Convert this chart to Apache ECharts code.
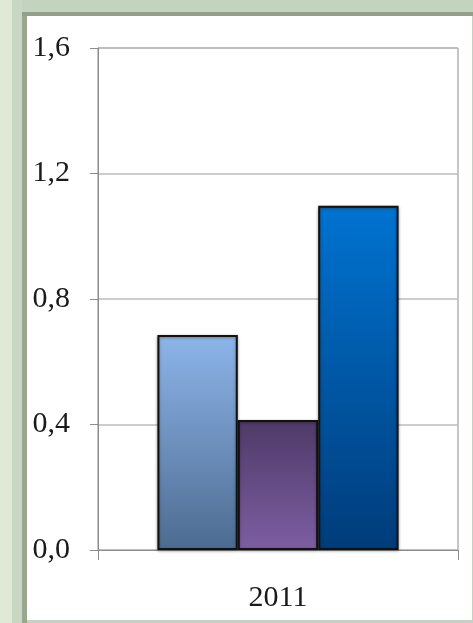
<!DOCTYPE html>
<html><head><meta charset="utf-8">
<script src="https://cdn.jsdelivr.net/npm/echarts@6/dist/echarts.min.js"></script>
<style>html,body{margin:0;padding:0;background:#c4d3c0;}#c{width:473px;height:623px;}</style>
</head><body><div id="c"></div>
<script>
const categories = ['2011'];
const seriesA = [0.685];
const seriesB = [0.414];
const seriesC = [1.097];
const yTicks = [0, 0.4, 0.8, 1.2, 1.6];

function grad(top, bottom){
  return new echarts.graphic.LinearGradient(0,0,0,1,[{offset:0,color:top},{offset:1,color:bottom}]);
}
const chart = echarts.init(document.getElementById('c'), null, {renderer:'canvas'});
const barStyle = (c)=>({color:c, borderColor:'#111', borderWidth:2, shadowColor:'rgba(0,0,0,0.35)', shadowBlur:3, shadowOffsetY:1});
chart.setOption({
  animation:false,
  backgroundColor:'#c4d3c0',
  graphic:[
    {type:'rect', z:-10, shape:{x:0,y:0,width:12,height:623}, style:{fill:'#e0e9d8'}},
    {type:'rect', z:-10, shape:{x:12,y:0,width:10,height:623}, style:{fill:'#c9d6c2'}},
    {type:'rect', z:-10, shape:{x:22,y:12,width:5,height:611}, style:{fill:'#9aa68f'}},
    {type:'rect', z:-10, shape:{x:22,y:12,width:451,height:4}, style:{fill:'#949f8b'}},
    {type:'rect', z:-9, shape:{x:27,y:16,width:445,height:604}, style:{fill:'#ffffff'}},
    {type:'rect', z:-9, shape:{x:27,y:620,width:446,height:3}, style:{fill:'#c9cfc5'}}
  ],
  grid:{left:98, right:15, top:48, bottom:73, show:true, borderColor:'#8c8c8c', borderWidth:1},
  xAxis:{type:'category', data:categories,
    axisLine:{lineStyle:{color:'#8c8c8c'}},
    axisTick:{show:true, length:10, lineStyle:{color:'#8c8c8c'}},
    axisLabel:{color:'#1a1a1a', fontFamily:'Liberation Serif', fontSize:30, margin:33}},
  yAxis:{type:'value', min:0, max:1.6, interval:0.4,
    axisLine:{show:true, lineStyle:{color:'#8c8c8c'}},
    axisTick:{show:true, length:8, lineStyle:{color:'#8c8c8c'}},
    splitLine:{lineStyle:{color:'#bdbdbd', width:1.5}},
    axisLabel:{color:'#1a1a1a', fontFamily:'Liberation Serif', fontSize:30, margin:28,
      formatter:(v)=>v.toFixed(1).replace('.',',')}},
  series:[
    {type:'bar', data:seriesA, barGap:'0%', barCategoryGap:'33%', itemStyle:barStyle(grad('#8db5ea','#4d6b90'))},
    {type:'bar', data:seriesB, itemStyle:barStyle(grad('#4e3a68','#7d5ea2'))},
    {type:'bar', data:seriesC, itemStyle:barStyle(grad('#0073d1','#003c7a'))}
  ]
});
</script></body></html>
